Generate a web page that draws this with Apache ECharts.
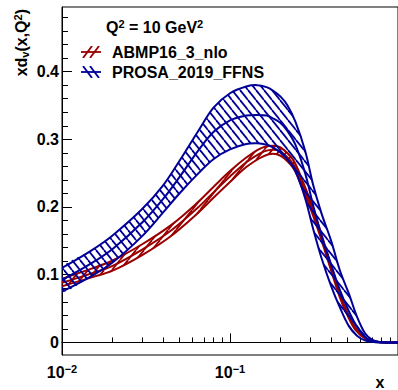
<!DOCTYPE html>
<html><head><meta charset="utf-8">
<script src="https://cdn.jsdelivr.net/npm/echarts@6/dist/echarts.min.js"></script>
<style>html,body{margin:0;padding:0;background:#fff}#c{width:398px;height:390px}</style>
</head><body><div id="c"></div>
<script>
// ---------- data ----------
const blueX       = [0.01, 0.015, 0.02, 0.03, 0.04, 0.05, 0.065, 0.08, 0.1, 0.125, 0.145, 0.165, 0.18, 0.2, 0.22, 0.245, 0.28, 0.313, 0.35, 0.4, 0.45, 0.51, 0.57, 0.635, 0.7, 0.76, 0.85, 1.0];
const blueUpper   = [0.110, 0.136, 0.158, 0.197, 0.232, 0.268, 0.313, 0.347, 0.368, 0.378, 0.380, 0.377, 0.372, 0.363, 0.350, 0.326, 0.283, 0.232, 0.191, 0.150, 0.107, 0.072, 0.038, 0.014, 0.004, 0.001, 0.000, 0.000];
const blueCentral = [0.092, 0.117, 0.138, 0.177, 0.212, 0.244, 0.284, 0.311, 0.328, 0.335, 0.336, 0.335, 0.331, 0.324, 0.312, 0.292, 0.250, 0.202, 0.158, 0.115, 0.078, 0.046, 0.023, 0.008, 0.002, 0.0005, 0.000, 0.000];
const blueLower   = [0.075, 0.098, 0.118, 0.157, 0.192, 0.220, 0.250, 0.271, 0.285, 0.293, 0.294, 0.292, 0.288, 0.280, 0.270, 0.253, 0.213, 0.167, 0.125, 0.083, 0.052, 0.024, 0.010, 0.003, 0.001, 0.000, 0.000, 0.000];

const redX        = [0.01, 0.015, 0.02, 0.03, 0.045, 0.065, 0.08, 0.1, 0.125, 0.15, 0.17, 0.19, 0.21, 0.24, 0.27, 0.3, 0.34, 0.4, 0.45, 0.5, 0.56, 0.65, 0.75, 0.85, 1.0];
const redUpper    = [0.094, 0.109, 0.121, 0.145, 0.174, 0.208, 0.230, 0.253, 0.273, 0.286, 0.290, 0.290, 0.284, 0.268, 0.239, 0.210, 0.170, 0.113, 0.072, 0.044, 0.021, 0.006, 0.001, 0.000, 0.000];
const redCentral  = [0.088, 0.102, 0.113, 0.137, 0.166, 0.200, 0.222, 0.245, 0.266, 0.279, 0.284, 0.284, 0.278, 0.262, 0.233, 0.205, 0.166, 0.110, 0.070, 0.042, 0.020, 0.005, 0.001, 0.000, 0.000];
const redLower    = [0.083, 0.096, 0.106, 0.129, 0.158, 0.192, 0.214, 0.237, 0.259, 0.272, 0.278, 0.278, 0.272, 0.256, 0.227, 0.199, 0.161, 0.106, 0.067, 0.040, 0.018, 0.004, 0.001, 0.000, 0.000];

const seriesNames = ['ABMP16_3_nlo', 'PROSA_2019_FFNS'];
const headerText  = 'Q{p|2} = 10 GeV{p|2}';
const yTitle      = 'xd{s|v}(x,Q{p|2})';
const xTitle      = 'x';

const xMajorTicks = [0.01, 0.1, 1];
const xLabelTicks = [0.01, 0.1];
const xMinorTicks = [0.02, 0.03, 0.04, 0.05, 0.06, 0.07, 0.08, 0.09, 0.2, 0.3, 0.4, 0.5, 0.6, 0.7, 0.8, 0.9];
const yMajorTicks = [0, 0.1, 0.2, 0.3, 0.4];
const yMinorTicks = [0.02, 0.04, 0.06, 0.08, 0.12, 0.14, 0.16, 0.18, 0.22, 0.24, 0.26, 0.28, 0.32, 0.34, 0.36, 0.38, 0.42, 0.44, 0.46, 0.48];
const xRange = [0.01, 1];
const yRange = [-0.0186, 0.4954];

// ---------- styling helpers ----------
const RED = '#990000', BLUE = '#000099';
const FONT = '"Liberation Sans", Arial, Helvetica, sans-serif';
const SMOOTH = 0.35;

function hatchCanvas(color, dir) {
  const w = 8, h = 10;
  const c = document.createElement('canvas');
  c.width = w; c.height = h;
  const ctx = c.getContext('2d');
  ctx.strokeStyle = color; ctx.lineWidth = 1.8;
  for (const dx of [-w, 0, w]) {
    ctx.beginPath();
    if (dir === '\\') { ctx.moveTo(dx, 0); ctx.lineTo(dx + w, h); }
    else { ctx.moveTo(dx, h); ctx.lineTo(dx + w, 0); }
    ctx.stroke();
  }
  return c;
}
function pattern(color, dir) {
  return { image: hatchCanvas(color, dir), repeat: 'repeat', imageWidth: 8, imageHeight: 10 };
}
function legendIcon(color, dir) {
  const w = 20, h = 12;
  const c = document.createElement('canvas');
  c.width = w; c.height = h;
  const ctx = c.getContext('2d');
  ctx.strokeStyle = color; ctx.lineWidth = 1.8;
  for (const x0 of [2, 9]) {
    ctx.beginPath();
    if (dir === '\\') { ctx.moveTo(x0, 0); ctx.lineTo(x0 + 9, h); }
    else { ctx.moveTo(x0, h); ctx.lineTo(x0 + 9, 0); }
    ctx.stroke();
  }
  ctx.beginPath(); ctx.moveTo(0, h / 2); ctx.lineTo(w, h / 2); ctx.stroke();
  return 'image://' + c.toDataURL();
}

// One custom series per band: hatched fill between upper and lower, plus the three curves,
// all positioned through the cartesian axes via api.coord.
function bandSeries(name, xs, up, mid, lo, color, dir) {
  const fill = pattern(color, dir);
  return {
    type: 'custom', name: name, coordinateSystem: 'cartesian2d', xAxisIndex: 0, yAxisIndex: 0,
    silent: true, clip: true, animation: false, itemStyle: { color: color },
    data: [[0.1, 0.1]],
    renderItem: function (params, api) {
      const pts = ys => xs.map((x, i) => api.coord([x, ys[i]]));
      const top = pts(up), c = pts(mid), bot = pts(lo);
      const line = p => ({ type: 'polyline', shape: { points: p, smooth: SMOOTH },
                           style: { stroke: color, lineWidth: 2, fill: null } });
      return {
        type: 'group',
        children: [
          { type: 'polygon', shape: { points: top.concat(bot.slice().reverse()), smooth: SMOOTH },
            style: { fill: fill, stroke: null } },
          line(top), line(c), line(bot)
        ]
      };
    }
  };
}

const expo = v => Math.round(Math.log10(v));
const supRich = { b: { fontSize: 16, fontWeight: 'bold', fontFamily: FONT, color: '#000', lineHeight: 18 },
                  s: { fontSize: 11, fontWeight: 'bold', fontFamily: FONT, color: '#000', verticalAlign: 'top', lineHeight: 11 } };

const chart = echarts.init(document.getElementById('c'), null, { renderer: 'svg', width: 398, height: 390 });
chart.setOption({
  animation: false,
  backgroundColor: '#fff',
  grid: { left: 62, top: 7, width: 338, height: 348, show: true, borderColor: '#000', borderWidth: 1, backgroundColor: 'transparent' },
  legend: {
    orient: 'vertical', left: 76, top: 38, itemWidth: 20, itemHeight: 12, itemGap: 2,
    selectedMode: false,
    textStyle: { fontSize: 16, fontWeight: 'bold', fontFamily: FONT, color: '#000', lineHeight: 18, padding: [0, 0, 0, 6] },
    data: [ { name: seriesNames[0], icon: legendIcon(RED, '/') },
            { name: seriesNames[1], icon: legendIcon(BLUE, '\\') } ]
  },
  xAxis: [
    { type: 'log', logBase: 10, min: xRange[0], max: xRange[1], position: 'bottom',
      axisLine: { show: true, lineStyle: { color: '#000', width: 1 } },
      axisTick: { show: true, inside: true, length: 9, customValues: xMajorTicks, lineStyle: { color: '#000', width: 1 } },
      axisLabel: { show: true, margin: 8, customValues: xLabelTicks, color: '#000',
                   formatter: v => '{b|10}{s|\u2212' + Math.abs(expo(v)) + '}', rich: supRich },
      splitLine: { show: false }, minorTick: { show: false } },
    { type: 'log', logBase: 10, min: xRange[0], max: xRange[1], position: 'bottom', gridIndex: 0,
      axisLine: { show: false },
      axisTick: { show: true, inside: true, length: 5, customValues: xMinorTicks, lineStyle: { color: '#000', width: 1 } },
      axisLabel: { show: false }, splitLine: { show: false } }
  ],
  yAxis: [
    { type: 'value', min: yRange[0], max: yRange[1], position: 'left',
      axisLine: { show: true, lineStyle: { color: '#000', width: 1 } },
      axisTick: { show: true, inside: true, length: 10, customValues: yMajorTicks, lineStyle: { color: '#000', width: 1 } },
      axisLabel: { show: true, margin: 3, customValues: yMajorTicks, color: '#000', fontSize: 16, fontWeight: 'bold', fontFamily: FONT,
                   formatter: v => (Math.abs(v) < 1e-9 ? '0' : v.toFixed(1)) },
      splitLine: { show: false } },
    { type: 'value', min: yRange[0], max: yRange[1], position: 'left', gridIndex: 0,
      axisLine: { show: false },
      axisTick: { show: true, inside: true, length: 6, customValues: yMinorTicks, lineStyle: { color: '#000', width: 1 } },
      axisLabel: { show: false }, splitLine: { show: false } }
  ],
  graphic: [
    { type: 'text', x: 106, y: 27.5, silent: true,
      style: { text: headerText, textAlign: 'left', textVerticalAlign: 'middle',
               font: 'bold 16px ' + FONT, fill: '#000', lineHeight: 18,
               rich: { p: { fontSize: 11, fontWeight: 'bold', fontFamily: FONT, fill: '#000', verticalAlign: 'top', lineHeight: 11 } } } },
    { type: 'text', x: 21.2, y: 9, rotation: Math.PI / 2, silent: true,
      style: { text: yTitle, textAlign: 'right', textVerticalAlign: 'middle',
               font: 'bold 16px ' + FONT, fill: '#000', lineHeight: 18,
               rich: { p: { fontSize: 11, fontWeight: 'bold', fontFamily: FONT, fill: '#000', verticalAlign: 'top', lineHeight: 11 },
                       s: { fontSize: 11, fontWeight: 'bold', fontFamily: FONT, fill: '#000', verticalAlign: 'bottom', lineHeight: 11 } } } },
    { type: 'text', x: 380, y: 382, silent: true,
      style: { text: xTitle, textAlign: 'center', textVerticalAlign: 'middle', font: 'bold 16px ' + FONT, fill: '#000' } }
  ],
  series: [
    bandSeries(seriesNames[0], redX, redUpper, redCentral, redLower, RED, '/'),
    bandSeries(seriesNames[1], blueX, blueUpper, blueCentral, blueLower, BLUE, '\\')
  ]
});
</script></body></html>
